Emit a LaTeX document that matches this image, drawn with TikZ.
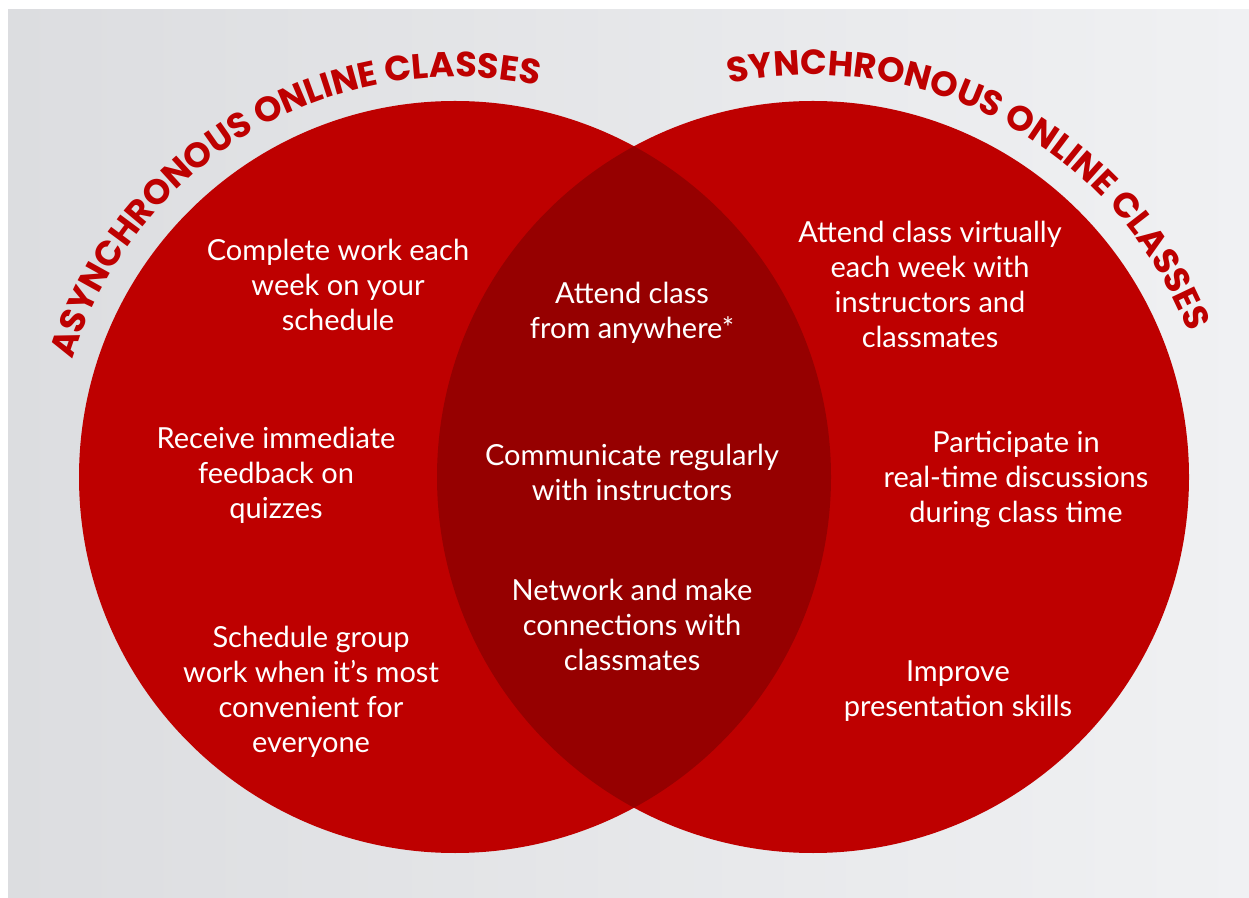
\documentclass[tikz,border=0pt]{standalone}
\usepackage{fontspec}
\setmainfont{Lato}
\newfontfamily\titlefont{Poppins}
\usetikzlibrary{decorations.text}
\definecolor{bgA}{RGB}{220,221,224}
\definecolor{bgB}{RGB}{240,241,243}
\definecolor{vred}{RGB}{190,0,0}
\definecolor{vdark}{RGB}{150,0,0}
\begin{document}
\begin{tikzpicture}[x=1pt,y=1pt,
  item/.style={text=white, align=center, font=\fontsize{29}{35}\selectfont, inner sep=0pt},
  circ/.style={fill=vred},
  arctitle/.style={decorate, decoration={text along path, text align=center,
    text={|\titlefont\bfseries\fontsize{35}{35}\selectfont\color{vred}|#1}}}
]
\useasboundingbox (0,0) rectangle (1249,897);
\fill[white] (0,0) rectangle (1249,897);
\shade[left color=bgA, right color=bgB] (8,0) rectangle (1249,887);

\coordinate (C1) at (455,420);
\coordinate (C2) at (813,420);

\fill[circ] (C1) circle[radius=376];
\fill[circ] (C2) circle[radius=376];
\begin{scope}
  \clip (C1) circle[radius=376];
  \fill[vdark] (C2) circle[radius=376];
\end{scope}

\path[arctitle={ASYNCHRONOUS ONLINE CLASSES}] ([shift={(170:400)}]C1) arc[start angle=170, end angle=71, radius=400];
\path[arctitle={SYNCHRONOUS ONLINE CLASSES}] ([shift={(112:402)}]C2) arc[start angle=112, end angle=11, radius=402];

\node[item] (a1) at (338,612) {Complete work each\\week on your\\schedule};
\node[item] (a2) at (276,422) {Receive immediate\\feedback on\\quizzes};
\node[item] (a3) at (311,205) {Schedule group\\work when it’s most\\convenient for\\everyone};

\node[item] (m1) at (632,584) {Attend class\\from anywhere*};
\node[item] (m2) at (632,425) {Communicate regularly\\with instructors};
\node[item] (m3) at (632,272) {Network and make\\connections with\\classmates};

\node[item] (s1) at (930,613) {Attend class virtually\\each week with\\instructors and\\classmates};
\node[item] (s2) at (1016,417) {Participate in\\real-time discussions\\during class time};
\node[item] (s3) at (958,206) {Improve\\presentation skills};
\end{tikzpicture}
\end{document}
